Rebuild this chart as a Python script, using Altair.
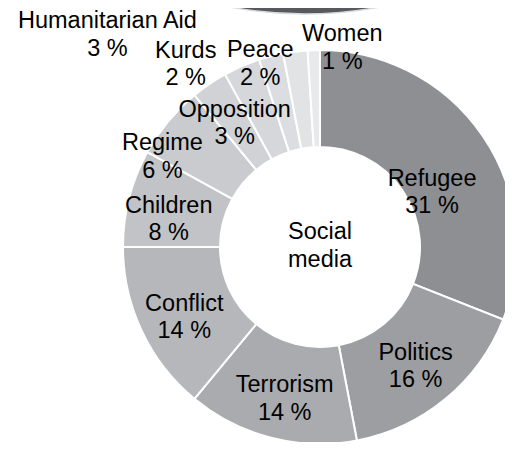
import altair as alt
import pandas as pd

# ---- data ----
categories = ["Refugee", "Politics", "Terrorism", "Conflict", "Children", "Regime",
              "Opposition", "Humanitarian Aid", "Kurds", "Peace", "Women"]
shares = [31, 16, 14, 14, 8, 6, 3, 3, 2, 2, 1]
colors = ["#8d8f92", "#9c9ea1", "#a9abae", "#b5b7ba", "#c1c3c6", "#c9cbce",
          "#d0d2d5", "#d5d7da", "#dbdde0", "#e1e3e5", "#e8e9eb"]
center_label = ["Social media"]
top_chart_values = [100]  # fragment of the chart above (only its lower edge is visible)

# ---- layout constants ----
W, H = 497, 434
CX, CY = 312, 239
FONT = "Liberation Sans"
FS = 23.5
LIFT = -12
LABEL_SHIFT = {
    "Refugee": (-12, 28), "Politics": (0, 2), "Terrorism": (2, 5),
    "Conflict": (0, 5), "Children": (-6, 8), "Regime": (-42, 4),
    "Opposition": (-1, -1), "Humanitarian Aid": (-153, -76), "Kurds": (-97, -39),
    "Peace": (-41, -36), "Women": (27, -51),
}

df = pd.DataFrame({"category": categories, "share": shares,
                   "order": list(range(len(categories)))})
theta_scale = alt.Scale(domain=[0, 100])

base = alt.Chart(df)

ring = base.mark_arc(innerRadius=100, outerRadius=197, stroke="white",
                     strokeWidth=2).encode(
    theta=alt.Theta("share:Q", stack=True, scale=theta_scale),
    order=alt.Order("order:Q"),
    color=alt.Color("category:N", scale=alt.Scale(domain=categories, range=colors),
                    legend=None),
    x=alt.value(CX), y=alt.value(CY),
)

lab_base = base.transform_window(
    cum="sum(share)", sort=[alt.SortField("order")], frame=[None, 0]
).transform_calculate(
    mid="datum.cum - datum.share / 2",
    label="datum.category + '\\n' + datum.share + ' %'",
)

label_layers = []
for cat in categories:
    dx, dy = LABEL_SHIFT[cat]
    label_layers.append(
        lab_base.transform_filter(alt.datum.category == cat).mark_text(
            radius=150, dx=dx, dy=dy + LIFT, lineBreak="\n", lineHeight=27.5,
            font=FONT, fontSize=FS, color="#000000", align="center",
            baseline="middle",
        ).encode(
            theta=alt.Theta("mid:Q", scale=theta_scale, stack=None),
            text="label:N",
            x=alt.value(CX), y=alt.value(CY),
        )
    )

center = alt.Chart(pd.DataFrame({"t": center_label})).transform_calculate(
    lbl="replace(datum.t, ' ', '\\n')"
).mark_text(font=FONT, fontSize=FS, lineBreak="\n", lineHeight=28,
            color="#000000", align="center", baseline="middle").encode(
    text="lbl:N", x=alt.value(CX), y=alt.value(CY - 3 + LIFT),
)

top = alt.Chart(pd.DataFrame({"v": top_chart_values})).mark_arc(
    outerRadius=400, color="#57595e", stroke="#d9dadc", strokeWidth=1.5
).encode(
    theta=alt.Theta("v:Q", stack=True, scale=theta_scale),
    x=alt.value(297), y=alt.value(-394),
)

chart = alt.layer(top, ring, *label_layers, center).properties(
    width=W, height=H,
    autosize=alt.AutoSizeParams(type="none"),
    padding=0,
).configure_view(stroke=None)

chart.save("out.html", embed_options={"renderer": "svg", "actions": False})
